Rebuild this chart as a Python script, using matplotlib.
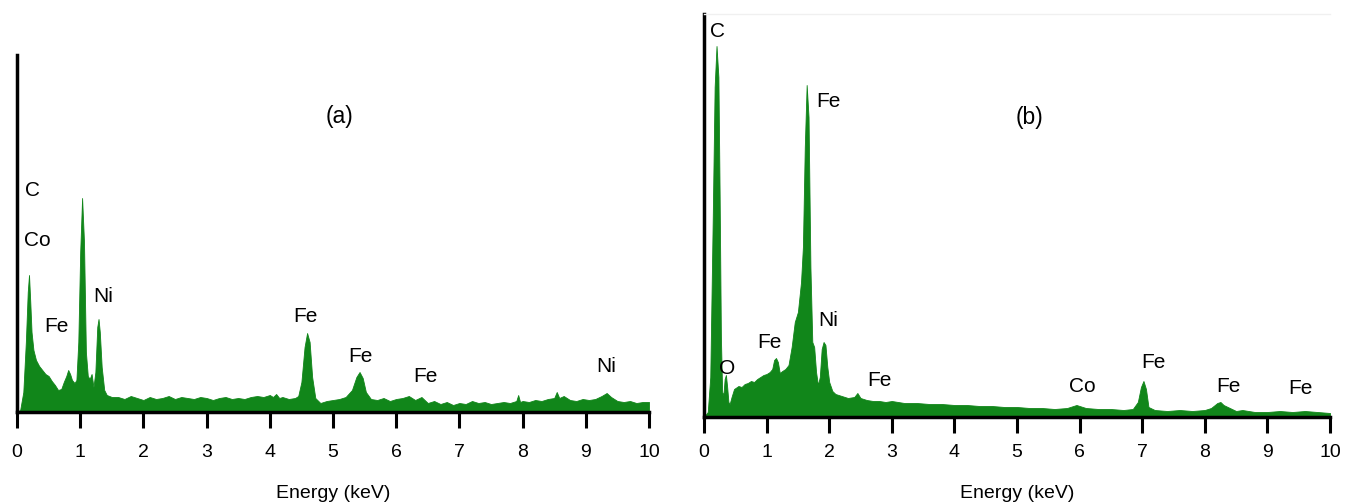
import matplotlib.pyplot as plt

# EDS spectrum (a): energy (keV) and intensity (a.u.)
energy_a = [0.00, 0.05, 0.10, 0.14, 0.17, 0.19, 0.21, 0.23, 0.26, 0.30, 0.35, 0.40, 0.45, 0.50,
            0.55, 0.60, 0.65, 0.70, 0.74, 0.78, 0.81, 0.84, 0.87, 0.91, 0.94, 0.97, 1.00, 1.03,
            1.06, 1.09, 1.12, 1.15, 1.18, 1.21, 1.24, 1.27, 1.29, 1.31, 1.34, 1.38, 1.42, 1.50,
            1.60, 1.70, 1.80, 1.90, 2.00, 2.10, 2.20, 2.30, 2.40, 2.50, 2.60, 2.70, 2.80, 2.90,
            3.00, 3.10, 3.20, 3.30, 3.40, 3.50, 3.60, 3.70, 3.80, 3.90, 4.00, 4.05, 4.10, 4.15,
            4.20, 4.30, 4.40, 4.45, 4.50, 4.55, 4.59, 4.63, 4.67, 4.72, 4.80, 4.90, 5.00, 5.10,
            5.20, 5.30, 5.37, 5.42, 5.47, 5.52, 5.60, 5.70, 5.80, 5.90, 6.00, 6.10, 6.20, 6.30,
            6.40, 6.50, 6.60, 6.70, 6.80, 6.90, 7.00, 7.10, 7.20, 7.30, 7.40, 7.50, 7.60, 7.70,
            7.80, 7.90, 7.93, 7.96, 8.00, 8.10, 8.20, 8.30, 8.40, 8.50, 8.54, 8.58, 8.65, 8.75,
            8.85, 8.95, 9.05, 9.15, 9.25, 9.33, 9.40, 9.50, 9.60, 9.70, 9.80, 9.90, 10.00]
counts_a = [0, 2, 20, 70, 120, 137, 110, 80, 62, 52, 46, 42, 38, 36,
            31, 27, 22, 23, 30, 36, 42, 38, 32, 29, 32, 70, 160, 214,
            170, 60, 36, 33, 38, 25, 40, 85, 93, 80, 45, 22, 17, 15,
            15, 13, 16, 14, 12, 15, 13, 14, 16, 13, 15, 14, 13, 15,
            14, 12, 14, 15, 13, 14, 13, 15, 16, 15, 17, 15, 18, 14,
            15, 13, 14, 16, 30, 65, 79, 70, 35, 14, 9, 11, 12, 13,
            15, 22, 35, 40, 34, 20, 13, 12, 14, 11, 13, 14, 16, 12,
            15, 9, 11, 8, 10, 7, 9, 8, 11, 9, 10, 8, 9, 10,
            9, 11, 17, 10, 11, 10, 12, 11, 13, 14, 20, 14, 16, 12,
            11, 13, 12, 13, 16, 19, 15, 11, 10, 11, 9, 10, 10]

# EDS spectrum (b)
energy_b = [0.00, 0.06, 0.10, 0.14, 0.17, 0.20, 0.23, 0.25, 0.27, 0.29, 0.31, 0.33, 0.35, 0.37,
            0.39, 0.41, 0.44, 0.48, 0.55, 0.60, 0.65, 0.70, 0.75, 0.80, 0.85, 0.90, 0.95, 1.00,
            1.05, 1.09, 1.12, 1.15, 1.18, 1.21, 1.25, 1.30, 1.35, 1.40, 1.45, 1.50, 1.55, 1.58,
            1.61, 1.64, 1.67, 1.70, 1.73, 1.76, 1.79, 1.82, 1.85, 1.88, 1.91, 1.94, 1.97, 2.00,
            2.05, 2.10, 2.20, 2.30, 2.40, 2.45, 2.50, 2.60, 2.70, 2.80, 2.90, 3.00, 3.20, 3.40,
            3.60, 3.80, 4.00, 4.20, 4.40, 4.60, 4.80, 5.00, 5.20, 5.40, 5.60, 5.80, 5.95, 6.00,
            6.10, 6.30, 6.50, 6.70, 6.85, 6.93, 6.98, 7.02, 7.06, 7.10, 7.20, 7.40, 7.60, 7.80,
            8.00, 8.10, 8.20, 8.25, 8.30, 8.40, 8.50, 8.60, 8.80, 9.00, 9.20, 9.40, 9.60, 9.80,
            10.00]
counts_b = [0, 5, 40, 200, 330, 371, 340, 220, 80, 25, 22, 38, 42, 30,
            15, 13, 20, 28, 31, 30, 33, 34, 36, 35, 38, 40, 42, 43,
            45, 48, 57, 59, 55, 44, 46, 48, 52, 70, 95, 105, 135, 170,
            270, 332, 300, 150, 75, 70, 45, 32, 40, 68, 75, 72, 50, 35,
            26, 23, 21, 19, 20, 24, 19, 17, 16, 16, 15, 16, 14, 14,
            13, 13, 12, 12, 11, 11, 10, 10, 9, 9, 8, 9, 12, 11,
            9, 8, 8, 7, 8, 15, 30, 36, 28, 10, 7, 6, 7, 6,
            7, 9, 14, 15, 12, 9, 6, 7, 5, 5, 6, 5, 6, 5,
            4]

# peak labels: (text, energy, height)
labels_a = [("C", 0.24, 222), ("Co", 0.32, 171), ("Fe", 0.63, 86), ("Ni", 1.36, 116),
            ("Fe", 4.57, 96), ("Fe", 5.43, 56), ("Fe", 6.47, 36), ("Ni", 9.33, 46)]
labels_b = [("C", 0.21, 385), ("Fe", 1.98, 315), ("Ni", 1.99, 96), ("Fe", 1.04, 75),
            ("O", 0.37, 49), ("Fe", 2.80, 37), ("Co", 6.05, 31), ("Fe", 7.18, 54),
            ("Fe", 8.38, 31), ("Fe", 9.53, 29)]

green = '#11861a'
narrow = ["Liberation Sans Narrow", "Liberation Sans"]

fig = plt.figure(figsize=(13.48, 5.04), dpi=100)
ax_a = fig.add_axes([17 / 1348, 92 / 504, 632 / 1348, 357 / 504])
ax_b = fig.add_axes([704 / 1348, 87 / 504, 626 / 1348, 403 / 504])

panels = [(ax_a, energy_a, counts_a, labels_a, "(a)", 357, (5.1, 295), 11.5),
          (ax_b, energy_b, counts_b, labels_b, "(b)", 403, (5.2, 299), 8.2)]

for ax, e, c, labs, tag, ymax, tag_pos, tpad in panels:
    ax.fill_between(e, c, 0, color=green, linewidth=0.6, edgecolor=green)
    ax.set_xlim(0, 10)
    ax.set_ylim(0, ymax)
    ax.set_xticks(range(0, 11))
    ax.set_yticks([])
    for s in ["left", "bottom"]:
        ax.spines[s].set_linewidth(2.5)
        ax.spines[s].set_color("black")
    ax.spines["right"].set_visible(False)
    ax.spines["top"].set_visible(False)
    ax.tick_params(axis="x", direction="out", length=11.5, width=2.2, pad=tpad,
                   labelsize=14, labelfontfamily=narrow)
    ax.set_xlabel("Energy (keV)", fontsize=14, labelpad=17, family=narrow)
    for txt, x, y in labs:
        ax.text(x, y, txt, fontsize=15, family="Liberation Sans", ha="center", va="center")
    ax.text(tag_pos[0], tag_pos[1], tag, fontsize=16.5, family="Liberation Sans",
            ha="center", va="center")

ax_b.spines["top"].set_visible(True)
ax_b.spines["top"].set_color("#f0f0f0")
ax_b.spines["top"].set_linewidth(1)

fig.savefig("out.png", dpi=100)
